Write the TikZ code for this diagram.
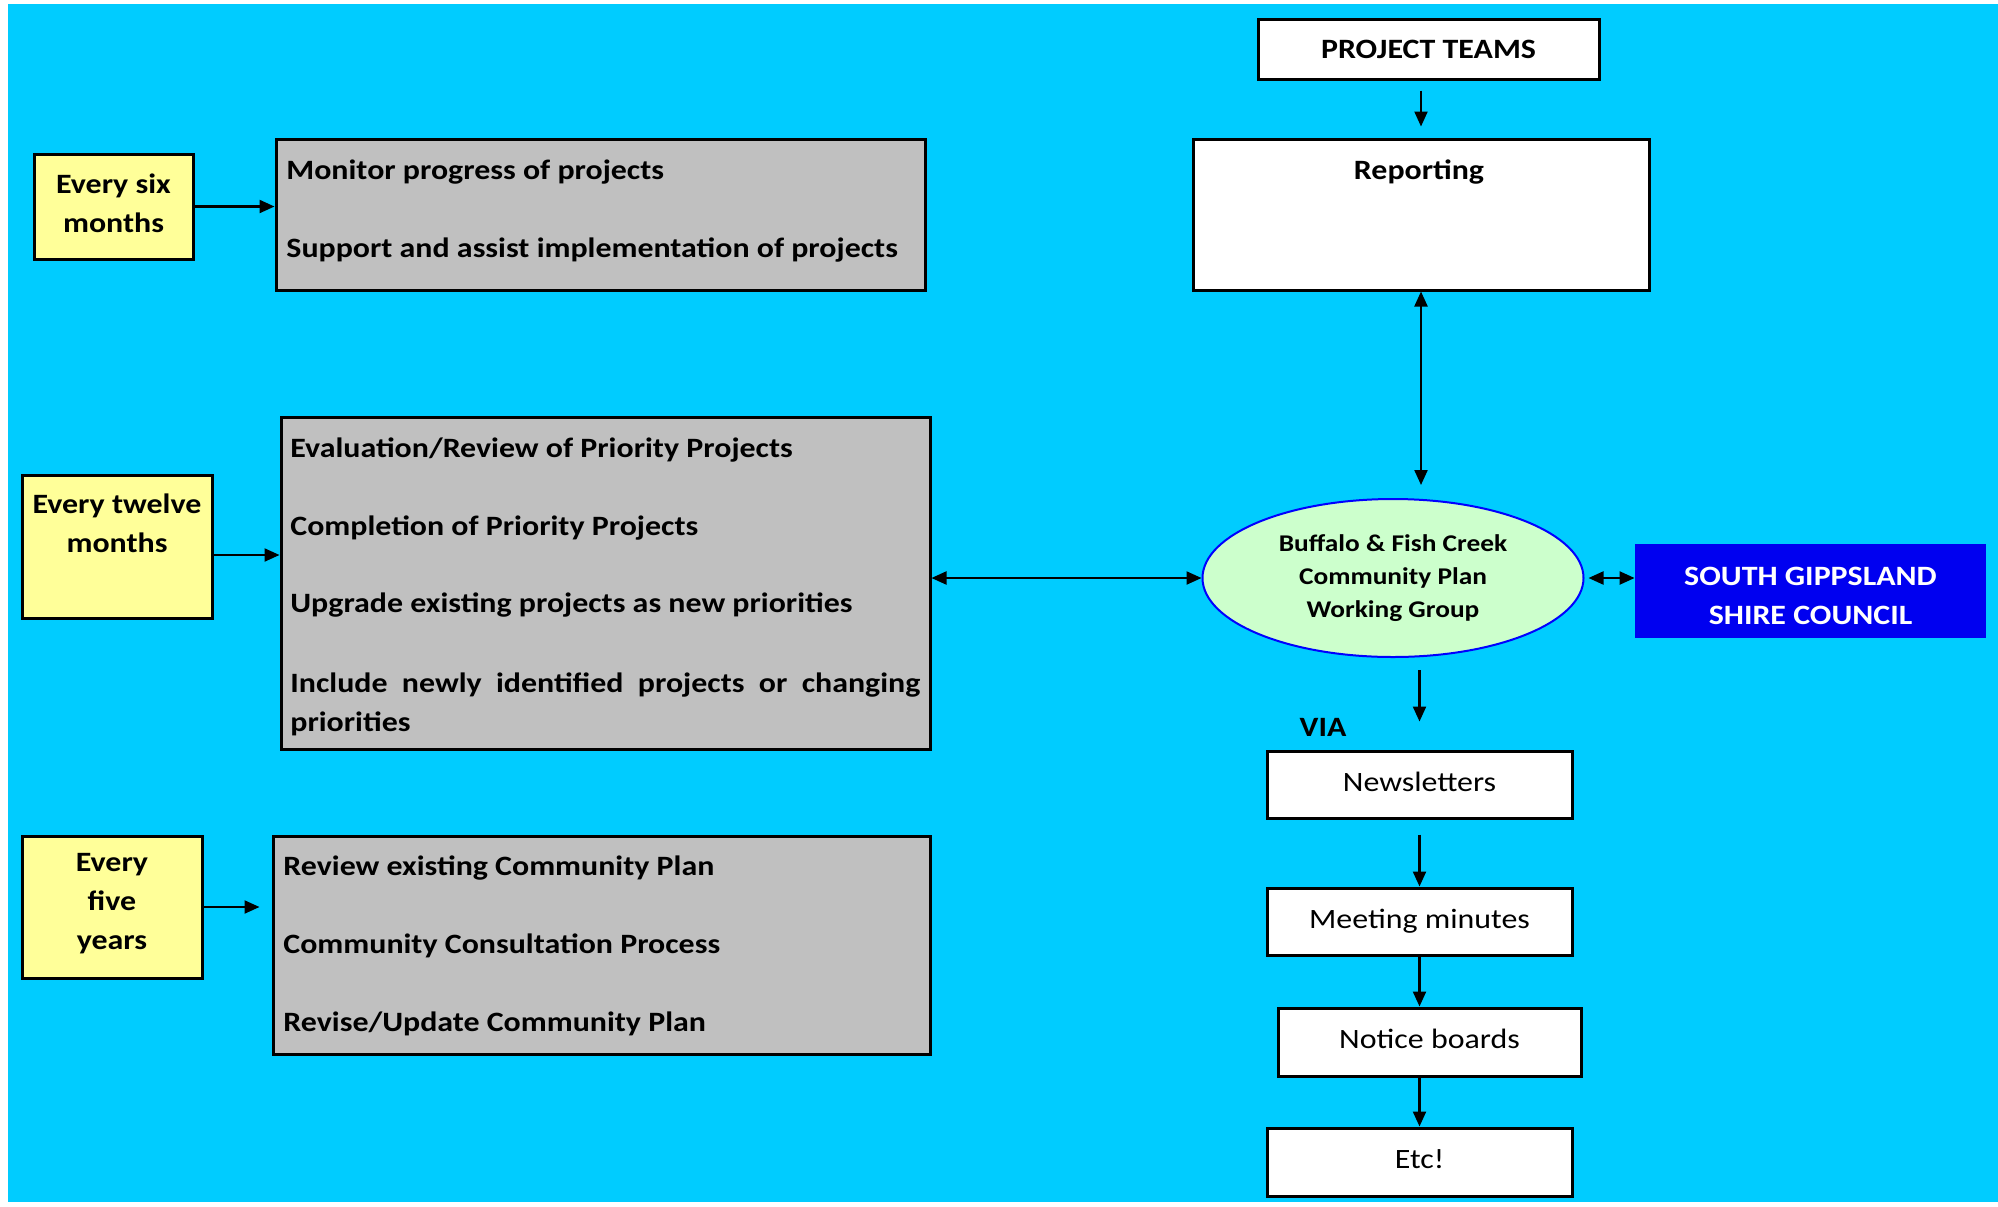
\documentclass[tikz,border=0pt]{standalone}
\usepackage{fontspec}
\setmainfont{Carlito}[FakeStretch=1.14]
\usepackage{xcolor}
\usepackage{tikz}
\usetikzlibrary{shapes,positioning,calc,arrows.meta}

\definecolor{bgcyan}{HTML}{00CCFF}
\definecolor{yelfill}{HTML}{FFFF99}
\definecolor{boxgray}{HTML}{C0C0C0}
\definecolor{wgreen}{HTML}{CCFFCC}
\definecolor{councilblue}{RGB}{0,0,240}

\tikzset{
  box/.style={draw, line width=1.5pt, inner sep=0pt},
  yellowbox/.style={box, fill=yelfill},
  graybox/.style={box, fill=boxgray},
  whitebox/.style={box, fill=white},
  txt/.style={font=\bfseries\fontsize{14}{19.5}\selectfont, align=center, inner sep=0pt},
  item/.style={font=\bfseries\fontsize{14}{19.5}\selectfont, anchor=base west, inner sep=0pt},
  plain/.style={font=\fontsize{14}{17}\selectfont, text depth=3pt},
  arr/.style={-{Triangle[length=7.5pt,width=6.5pt]}, line width=1.1pt},
  arrboth/.style={{Triangle[length=7.5pt,width=6.5pt]}-{Triangle[length=7.5pt,width=6.5pt]}, line width=1.1pt},
}

\begin{document}
\begin{tikzpicture}[x=0.5pt, y=-0.5pt]
    \useasboundingbox (0,0) rectangle (1998,1206);
    \fill[white] (0,0) rectangle (1998,1206);
    \fill[bgcyan] (8,4) rectangle (1998,1202);

    % every six months
    \node[yellowbox, minimum width=79.5pt, minimum height=52.5pt] (six) at (113.5,206.5) {};
    \node[txt] (sixtxt) at (113.5,203) {Every six\\months};
    \node[graybox, minimum width=324.5pt, minimum height=75.5pt] (mon) at (600.5,214.5) {};
    \node[item] (mon1) at (286,179) {Monitor progress of projects};
    \node[item] (mon2) at (286,257) {Support and assist implementation of projects};

    % every twelve months
    \node[yellowbox, minimum width=95pt, minimum height=71.5pt] (twelve) at (117,546.5) {};
    \node[txt] (twelvetxt) at (117,523) {Every twelve\\months};
    \node[graybox, minimum width=324.5pt, minimum height=166pt] (rev) at (605.5,583) {};
    \node[item] (rev1) at (290,457) {Evaluation/Review of Priority Projects};
    \node[item] (rev2) at (290,535) {Completion of Priority Projects};
    \node[item] (rev3) at (290,612) {Upgrade existing projects as new priorities};
    \node[item] (rev4) at (290,692) {\makebox[315pt][s]{Include newly identified projects or changing}};
    \node[item] (rev5) at (290,731) {priorities};

    % every five years
    \node[yellowbox, minimum width=90pt, minimum height=71pt] (five) at (112,907) {};
    \node[txt] (fivetxt) at (112,904) {Every\\five\\years};
    \node[graybox, minimum width=328.5pt, minimum height=109pt] (con) at (601.5,945) {};
    \node[item] (con1) at (283,875) {Review existing Community Plan};
    \node[item] (con2) at (283,953) {Community Consultation Process};
    \node[item] (con3) at (283,1031) {Revise/Update Community Plan};

    % right column
    \node[whitebox, txt, minimum width=170.5pt, minimum height=30pt] (teams) at (1428.5,49) {PROJECT TEAMS};
    \node[whitebox, minimum width=228pt, minimum height=75.5pt] (report) at (1421,214.5) {};
    \node[txt, anchor=base] (reporttxt) at (1419,179) {Reporting};
    \node[ellipse, draw=blue, line width=1pt, fill=wgreen, minimum width=190.5pt, minimum height=79pt,
          inner sep=0pt, align=center, font=\bfseries\fontsize{12}{16.5}\selectfont] (wg) at (1393,578)
          {Buffalo \& Fish Creek\\Community Plan\\Working Group};
    \node[fill=councilblue, minimum width=175.5pt, minimum height=47pt] (council) at (1810.5,591) {};
    \node[txt, text=white] (counciltxt) at (1810.5,596) {SOUTH GIPPSLAND\\SHIRE COUNCIL};
    \node[txt] (via) at (1323,727) {VIA};
    \node[whitebox, plain, minimum width=152.5pt, minimum height=33.5pt] (news) at (1419.5,784.5) {Newsletters};
    \node[whitebox, plain, minimum width=152.5pt, minimum height=33.5pt] (minutes) at (1419.5,921.5) {Meeting minutes};
    \node[whitebox, plain, minimum width=151.5pt, minimum height=34pt] (notice) at (1429.5,1042) {Notice boards};
    \node[whitebox, plain, minimum width=152.5pt, minimum height=34pt] (etc) at (1419.5,1162) {Etc!};

    % connectors
    \draw[arr] (six.east) -- (six.east -| mon.west);
    \coordinate (t2) at ($(twelve.east)+(0,8.5)$);
    \draw[arr] (t2) -- (t2 -| rev.west);
    \draw[arr, shorten >=6pt] (five.east) -- (five.east -| con.west);

    \draw[arr, shorten <=5pt, shorten >=5.5pt] (teams.south -| report.north) -- (report.north);
    \draw[arrboth, shorten >=6.5pt] (report.south) -- (report.south |- wg.north);
    \draw[arrboth] (rev.east |- wg.west) -- (wg.west);
    \draw[arrboth, shorten <=2pt] (wg.east) -- (wg.east -| council.west);
    \draw[arr, shorten <=6pt, shorten >=14pt] (wg.south -| news.north) -- (news.north);
    \draw[arr, shorten <=7.5pt] (news) -- (minutes);
    \draw[arr] (minutes.south) -- (minutes.south |- notice.north);
    \draw[arr] (etc.north |- notice.south) -- (etc.north);
\end{tikzpicture}
\end{document}
